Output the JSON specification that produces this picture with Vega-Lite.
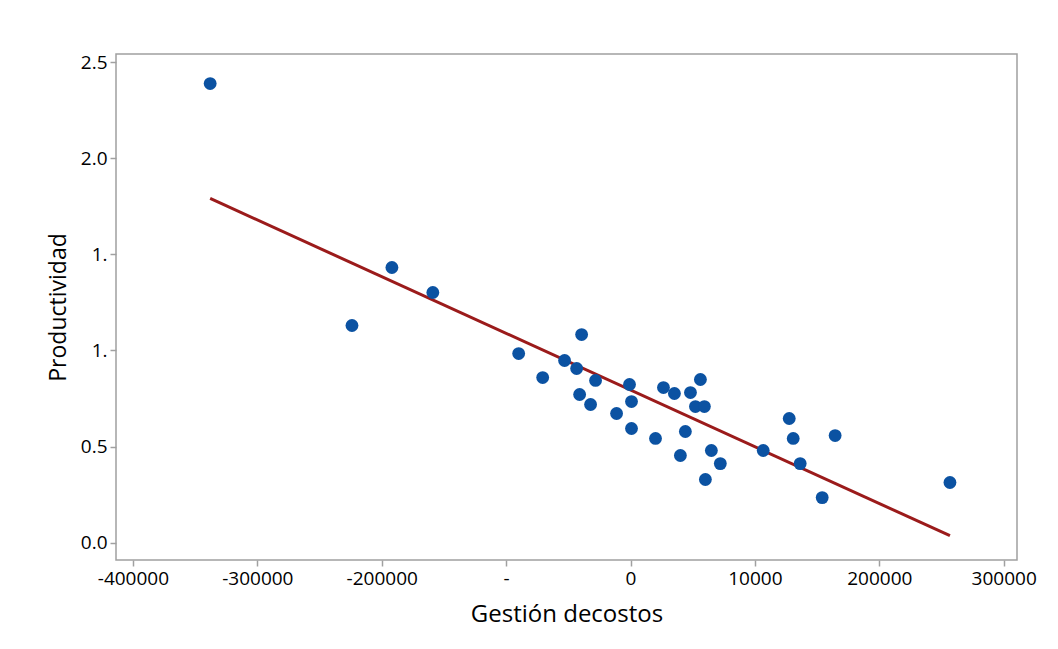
{
  "$schema": "https://vega.github.io/schema/vega-lite/v6.json",
  "width": 901,
  "height": 506,
  "autosize": {"type": "none"},
  "padding": {"left": 116, "top": 54, "right": 41, "bottom": 89},
  "background": "white",
  "config": {
    "font": "Open Sans",
    "view": {"stroke": "#a0a0a0", "strokeWidth": 1.5},
    "axis": {
      "grid": false,
      "domain": false,
      "tickColor": "#a0a0a0",
      "tickWidth": 1.5,
      "tickSize": 6,
      "labelFont": "Open Sans",
      "labelFontSize": 19,
      "labelColor": "#000000",
      "titleFont": "Open Sans",
      "titleFontSize": 23,
      "titleFontWeight": "normal",
      "titleColor": "#000000"
    }
  },
  "data": {
    "values": [
      {"gestion": -337900, "productividad": 2.39},
      {"gestion": -191800, "productividad": 1.432},
      {"gestion": -158900, "productividad": 1.302},
      {"gestion": -223900, "productividad": 1.13},
      {"gestion": -39300, "productividad": 1.083},
      {"gestion": -89900, "productividad": 0.984},
      {"gestion": -53000, "productividad": 0.948},
      {"gestion": -43300, "productividad": 0.906},
      {"gestion": -70600, "productividad": 0.859},
      {"gestion": -28100, "productividad": 0.844},
      {"gestion": -800, "productividad": 0.823},
      {"gestion": 26500, "productividad": 0.807},
      {"gestion": 56200, "productividad": 0.849},
      {"gestion": 35300, "productividad": 0.776},
      {"gestion": 48200, "productividad": 0.781},
      {"gestion": -40900, "productividad": 0.771},
      {"gestion": 52200, "productividad": 0.708},
      {"gestion": 59400, "productividad": 0.708},
      {"gestion": -32100, "productividad": 0.719},
      {"gestion": 800, "productividad": 0.734},
      {"gestion": -11200, "productividad": 0.672},
      {"gestion": 800, "productividad": 0.594},
      {"gestion": 20100, "productividad": 0.542},
      {"gestion": 44100, "productividad": 0.578},
      {"gestion": 40100, "productividad": 0.453},
      {"gestion": 65000, "productividad": 0.479},
      {"gestion": 72200, "productividad": 0.411},
      {"gestion": 60200, "productividad": 0.328},
      {"gestion": 106700, "productividad": 0.479},
      {"gestion": 127600, "productividad": 0.646},
      {"gestion": 130800, "productividad": 0.542},
      {"gestion": 136400, "productividad": 0.411},
      {"gestion": 164500, "productividad": 0.557},
      {"gestion": 154100, "productividad": 0.234},
      {"gestion": 256800, "productividad": 0.3125}
    ]
  },
  "encoding": {
    "x": {
      "field": "gestion",
      "type": "quantitative",
      "title": "Gestión decostos",
      "scale": {"domain": [-413600, 310700], "nice": false, "zero": false},
      "axis": {
        "values": [-400000, -300000, -200000, -100000, 0, 100000, 200000, 300000],
        "labelExpr": "datum.value == -100000 ? '-' : datum.value == 100000 ? '10000' : '' + datum.value",
        "labelPadding": 3,
        "titlePadding": 14,
        "titleFontSize": 24
      }
    },
    "y": {
      "field": "productividad",
      "type": "quantitative",
      "title": "Productividad",
      "scale": {"domain": [-0.091, 2.544], "nice": false, "zero": false},
      "axis": {
        "values": [0, 0.5, 1, 1.5, 2, 2.5],
        "labelExpr": "(datum.value == 1 || datum.value == 1.5) ? '1.' : format(datum.value, '.1f')",
        "labelPadding": 3,
        "titlePadding": 10
      }
    }
  },
  "layer": [
    {
      "transform": [{"regression": "productividad", "on": "gestion"}],
      "mark": {"type": "line", "color": "#9B1B1B", "strokeWidth": 3, "clip": true}
    },
    {
      "mark": {"type": "circle", "color": "#0B52A2", "opacity": 1, "size": 165}
    }
  ]
}
